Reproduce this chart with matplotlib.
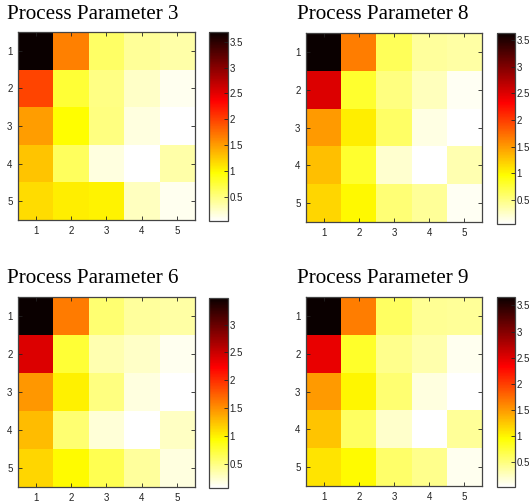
import matplotlib
matplotlib.use("Agg")
import matplotlib.pyplot as plt
import numpy as np

# Values (rows top to bottom, columns left to right)
titles = ["Process Parameter 3", "Process Parameter 8",
          "Process Parameter 6", "Process Parameter 9"]

pp3 = [[3.69, 1.65, 0.59, 0.41, 0.35],
       [1.98, 0.76, 0.48, 0.24, 0.10],
       [1.50, 0.96, 0.50, 0.15, 0.03],
       [1.28, 0.63, 0.15, 0.03, 0.35],
       [1.15, 1.05, 1.02, 0.27, 0.10]]

pp8 = [[3.63, 1.65, 0.65, 0.40, 0.38],
       [2.50, 0.80, 0.50, 0.30, 0.10],
       [1.50, 1.05, 0.60, 0.15, 0.05],
       [1.30, 0.80, 0.22, 0.05, 0.33],
       [1.17, 1.00, 0.55, 0.42, 0.10]]

pp6 = [[3.48, 1.60, 0.55, 0.40, 0.37],
       [2.40, 0.75, 0.33, 0.25, 0.12],
       [1.45, 1.00, 0.50, 0.17, 0.06],
       [1.27, 0.55, 0.20, 0.06, 0.27],
       [1.13, 0.95, 0.65, 0.40, 0.17]]

pp9 = [[3.66, 1.65, 0.60, 0.42, 0.40],
       [2.45, 0.80, 0.45, 0.33, 0.10],
       [1.50, 1.00, 0.55, 0.15, 0.03],
       [1.27, 0.60, 0.22, 0.03, 0.40],
       [1.10, 0.98, 0.58, 0.45, 0.10]]

grid_labels = [1, 2, 3, 4, 5]
cbar_ticks = [0.5, 1, 1.5, 2, 2.5, 3, 3.5]

W, H = 529, 503
fig = plt.figure(figsize=(W / 100, H / 100), dpi=100)


def rect(x0, y0, x1, y1):
    return [x0 / W, 1 - y1 / H, (x1 - x0) / W, (y1 - y0) / H]


# pixel boxes: heatmap, colorbar, title anchor
layout = [
    ((18, 32, 195, 220), (209, 32, 228, 221), (7, 19)),
    ((306, 33, 482, 222), (497, 33, 515, 224), (297, 19)),
    ((18, 297, 195, 487), (209, 298, 228, 488), (7, 283)),
    ((306, 297, 482, 486), (497, 297, 515, 487), (297, 283)),
]

edge = "#444444"
tick_font = "Liberation Sans"
for title, data, (hm, cb, tp) in zip(titles, [pp3, pp8, pp6, pp9], layout):
    arr = np.array(data)
    ax = fig.add_axes(rect(*hm))
    im = ax.imshow(arr, cmap="hot_r", aspect="auto", interpolation="nearest",
                   extent=[0.5, 5.5, 5.5, 0.5],
                   vmin=arr.min(), vmax=arr.max())
    ax.set_xticks(grid_labels)
    ax.set_yticks(grid_labels)
    ax.tick_params(direction="in", top=True, right=True, length=3,
                   width=0.6, labelsize=7, colors="#222222", pad=4)
    for lbl in ax.get_xticklabels() + ax.get_yticklabels():
        lbl.set_family(tick_font)
    for s in ax.spines.values():
        s.set_color(edge)
        s.set_linewidth(0.9)

    cax = fig.add_axes(rect(*cb))
    cbar = fig.colorbar(im, cax=cax)
    cbar.set_ticks([t for t in cbar_ticks if arr.min() <= t <= arr.max()])
    cbar.ax.set_yticklabels([f"{t:g}" for t in cbar.get_ticks()],
                            family=tick_font)
    cbar.ax.tick_params(direction="in", length=3, width=0.6, labelsize=7,
                        colors="#222222", pad=1)
    cbar.outline.set_edgecolor(edge)
    cbar.outline.set_linewidth(0.9)

    fig.text(tp[0] / W, 1 - tp[1] / H, title, family="Liberation Serif",
             fontsize=15.2, ha="left", va="baseline", color="black")

fig.savefig("out.png", dpi=100)
